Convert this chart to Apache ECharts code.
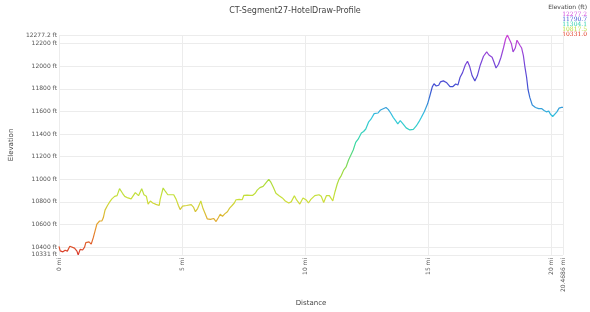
<!DOCTYPE html>
<html><head><meta charset="utf-8">
<script src="https://cdn.jsdelivr.net/npm/echarts@6/dist/echarts.min.js"></script>
<style>html,body{margin:0;padding:0;background:#fff}#c{width:590px;height:312px}</style>
</head><body><div id="c"></div>
<script>
const titleText = 'CT-Segment27-HotelDraw-Profile';
const distanceMi = [0,0.05,0.16,0.25,0.34,0.44,0.52,0.63,0.73,0.78,0.86,0.96,1.04,1.09,1.15,1.22,1.31,1.39,1.48,1.54,1.65,1.74,1.80,1.87,1.97,2.06,2.15,2.26,2.36,2.46,2.58,2.67,2.80,2.93,3.10,3.23,3.36,3.45,3.55,3.62,3.71,3.81,3.94,4.07,4.11,4.23,4.33,4.42,4.55,4.66,4.76,4.85,4.92,5.02,5.18,5.37,5.46,5.54,5.63,5.76,5.85,5.93,6.02,6.15,6.28,6.38,6.47,6.55,6.64,6.73,6.84,6.93,7.03,7.12,7.19,7.32,7.44,7.51,7.64,7.77,7.87,7.97,8.05,8.16,8.29,8.42,8.52,8.61,8.70,8.81,8.94,9.07,9.19,9.33,9.43,9.56,9.65,9.78,9.91,10.04,10.13,10.23,10.39,10.56,10.65,10.75,10.86,10.98,11.12,11.21,11.30,11.37,11.47,11.56,11.66,11.76,11.86,11.95,12.05,12.15,12.28,12.37,12.46,12.57,12.67,12.80,12.96,13.06,13.19,13.28,13.37,13.47,13.58,13.67,13.76,13.86,13.97,14.10,14.25,14.39,14.51,14.62,14.71,14.84,14.97,15.06,15.16,15.23,15.32,15.42,15.49,15.61,15.75,15.88,16.00,16.11,16.20,16.29,16.39,16.50,16.59,16.68,16.78,16.89,16.99,17.11,17.24,17.37,17.46,17.59,17.66,17.75,17.85,17.95,18.05,18.14,18.21,18.28,18.37,18.44,18.53,18.60,18.66,18.73,18.79,18.86,18.92,18.99,19.05,19.12,19.22,19.35,19.48,19.61,19.70,19.79,19.89,19.96,20.05,20.13,20.22,20.31,20.41,20.4686];
const elevationFt = [10407,10366,10358,10372,10364,10407,10418,10391,10364,10331.0,10380,10374,10399,10440,10432,10446,10426,10481,10555,10604,10631,10631,10659,10727,10768,10800,10827,10849,10855,10917,10876,10849,10835,10827,10882,10855,10917,10863,10849,10781,10808,10790,10778,10768,10822,10923,10890,10863,10863,10863,10822,10768,10732,10762,10768,10776,10754,10713,10741,10808,10741,10700,10650,10645,10653,10626,10659,10691,10672,10694,10713,10745,10768,10790,10819,10822,10819,10858,10860,10858,10858,10876,10904,10926,10937,10972,10999,10972,10931,10876,10855,10835,10808,10790,10800,10855,10817,10781,10835,10817,10790,10822,10855,10863,10849,10795,10855,10855,10808,10890,10958,10999,11035,11081,11109,11171,11218,11259,11327,11355,11409,11423,11445,11505,11532,11581,11587,11614,11627,11636,11619,11587,11546,11519,11491,11519,11491,11455,11437,11442,11472,11510,11546,11600,11668,11737,11818,11846,11826,11832,11862,11871,11854,11821,11821,11843,11834,11903,11944,12012,12045,11998,11916,11871,11916,12012,12089,12127,12100,12080,12040,11985,12018,12080,12162,12244,12277.2,12272,12203,12127,12162,12231,12217,12182,12162,12094,11998,11903,11793,11725,11658,11636,11625,11625,11609,11597,11603,11576,11556,11570,11597,11630,11636,11636];
const yTicks = [10331, 10400, 10600, 10800, 11000, 11200, 11400, 11600, 11800, 12000, 12200, 12277.2];
const xTicks = [0, 5, 10, 15, 20, 20.4686];
const colorStops = ['#d9352a','#e89a2e','#cce03a','#9cda3e','#38d8a0','#33c8df','#3a50d2','#7a45d8','#d044d6'];

const eMin = Math.min(...elevationFt), eMax = Math.max(...elevationFt);
const legendVals = [0,1,2,3,4].map(i => eMax - i*(eMax-eMin)/4);
const legendColors = ['#d048dc','#3e56d4','#30d0b0','#b8e040','#e03a24'];

const chart = echarts.init(document.getElementById('c'), null, {renderer:'canvas'});
const graphics = [{type:'text', right:3, top:4, style:{text:'Elevation (ft)', fill:'#444', font:'6px "DejaVu Sans", sans-serif', textAlign:'right'}}];
legendVals.forEach((v,i)=>graphics.push({type:'text', right:3, top:11+i*5, style:{text:v.toFixed(1), fill:legendColors[i], font:'6px "DejaVu Serif", serif', textAlign:'right'}}));
chart.setOption({
  backgroundColor:'#fff',
  animation:false,
  title:{text:titleText, left:'center', top:2, textStyle:{fontSize:8, fontWeight:'normal', color:'#444', fontFamily:'"DejaVu Sans", sans-serif'}},
  grid:{left:37, right:27, top:35, bottom:39, containLabel:false},
  graphic: graphics,
  visualMap:{show:false, type:'continuous', dimension:1, min:eMin, max:eMax, inRange:{color:colorStops}},
  xAxis:{type:'value', min:0, max:20.4686, name:'Distance', nameLocation:'middle', nameGap:31,
    nameTextStyle:{fontSize:7, color:'#444', fontFamily:'"DejaVu Sans", sans-serif'},
    axisLine:{show:false}, axisTick:{show:false, customValues:xTicks},
    axisLabel:{customValues:xTicks, rotate:90, fontSize:6, color:'#555', margin:3, formatter:v=>v+' mi', fontFamily:'"DejaVu Sans", sans-serif'},
    splitLine:{show:true, lineStyle:{color:'#ececec', width:1}}},
  yAxis:{type:'value', min:eMin, max:eMax, name:'Elevation', nameLocation:'middle', nameGap:29,
    nameTextStyle:{fontSize:7, color:'#444', fontFamily:'"DejaVu Sans", sans-serif'},
    axisLine:{show:false}, axisTick:{show:false, customValues:yTicks},
    axisLabel:{customValues:yTicks, fontSize:6, color:'#555', margin:2, formatter:v=>v+' ft', fontFamily:'"DejaVu Sans", sans-serif'},
    splitLine:{show:true, lineStyle:{color:'#ececec', width:1}}},
  series:[{type:'line', data:distanceMi.map((d,i)=>[d, elevationFt[i]]), showSymbol:false, lineStyle:{width:1.2}}]
});
</script></body></html>
